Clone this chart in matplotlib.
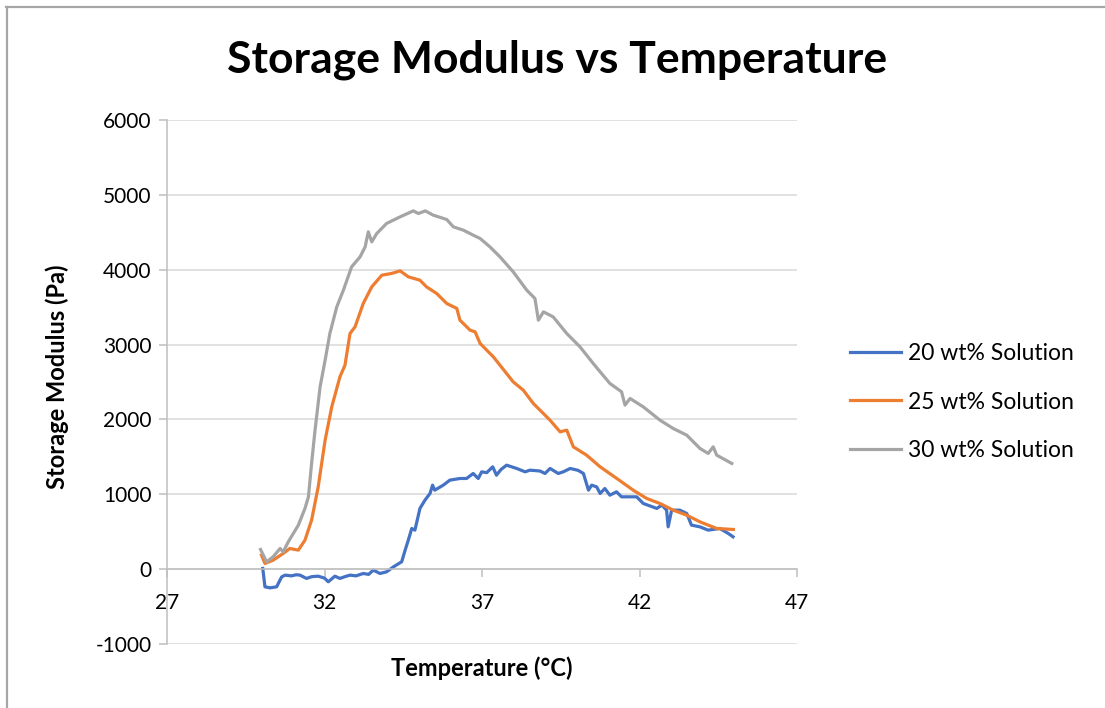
import matplotlib
matplotlib.use("Agg")
import matplotlib.pyplot as plt
from matplotlib.lines import Line2D

plt.rcParams['font.family'] = ['Lato', 'DejaVu Sans']
plt.rcParams['axes.unicode_minus'] = False

# 20 wt% solution
t20 = [30.04, 30.11, 30.27, 30.48, 30.64, 30.75, 30.95, 31.1, 31.22, 31.43, 31.6,
       31.8, 32.0, 32.12, 32.33, 32.49, 32.65, 32.81, 33.0, 33.23, 33.4, 33.55,
       33.76, 33.97, 34.19, 34.45, 34.56, 34.66, 34.77, 34.87, 35.03, 35.19,
       35.35, 35.43, 35.5, 35.77, 35.98, 36.3, 36.51, 36.72, 36.88, 36.99,
       37.15, 37.34, 37.46, 37.6, 37.78, 38.1, 38.37, 38.52, 38.84, 39.0,
       39.16, 39.42, 39.58, 39.8, 40.05, 40.22, 40.38, 40.48, 40.64, 40.75,
       40.9, 41.06, 41.27, 41.43, 41.91, 42.12, 42.55, 42.71, 42.86, 42.91,
       43.02, 43.28, 43.5, 43.65, 43.92, 44.18, 44.55, 44.82, 44.97]
g20 = [9, -236, -250, -236, -103, -80, -90, -75, -80, -124, -100,
       -94, -120, -169, -94, -124, -100, -80, -90, -58, -70, -13,
       -58, -36, 31, 98, 254, 387, 543, 521, 811, 922,
       1011, 1122, 1055, 1122, 1189, 1211, 1211, 1278, 1211, 1300,
       1289, 1367, 1255, 1330, 1389, 1345, 1300, 1322, 1311, 1278,
       1345, 1278, 1300, 1345, 1320, 1278, 1055, 1122, 1099, 1011,
       1077, 988, 1033, 966, 966, 877, 811, 855, 788, 565,
       788, 788, 744, 588, 565, 521, 543, 476, 432]

# 25 wt% solution
t25 = [30.0, 30.11, 30.37, 30.69, 30.9, 31.17, 31.38, 31.59, 31.8, 32.02,
       32.23, 32.49, 32.65, 32.81, 32.97, 33.23, 33.5, 33.82, 34.13, 34.4,
       34.66, 35.03, 35.24, 35.56, 35.88, 36.2, 36.3, 36.62, 36.78, 36.94,
       37.36, 37.57, 37.99, 38.31, 38.63, 39.16, 39.48, 39.69, 39.9, 40.32,
       40.75, 41.28, 41.8, 42.23, 42.65, 43.07, 43.5, 43.92, 44.45, 44.98]
g25 = [187, 76, 120, 210, 276, 254, 387, 654, 1099, 1723,
       2168, 2569, 2725, 3148, 3237, 3549, 3771, 3927, 3950, 3985,
       3905, 3860, 3771, 3683, 3549, 3483, 3326, 3193, 3170, 3015,
       2836, 2725, 2502, 2391, 2213, 1990, 1834, 1857, 1634, 1523,
       1367, 1211, 1055, 944, 877, 788, 721, 632, 543, 530]

# 30 wt% solution
t30 = [29.97, 30.16, 30.37, 30.59, 30.69, 30.85, 31.17, 31.38, 31.49, 31.59,
       31.7, 31.86, 32.02, 32.17, 32.39, 32.6, 32.86, 33.13, 33.29, 33.39,
       33.5, 33.66, 33.97, 34.4, 34.82, 34.98, 35.2, 35.45, 35.88, 36.09,
       36.41, 36.72, 36.94, 37.25, 37.57, 37.99, 38.42, 38.68, 38.79, 38.95,
       39.26, 39.69, 40.11, 40.53, 40.75, 41.06, 41.43, 41.54, 41.7, 42.12,
       42.65, 43.07, 43.5, 43.92, 44.18, 44.34, 44.45, 44.93]
g30 = [263, 98, 165, 276, 231, 365, 588, 811, 966, 1412,
       1857, 2435, 2792, 3148, 3504, 3727, 4038, 4172, 4305, 4506,
       4372, 4484, 4618, 4706, 4786, 4751, 4786, 4729, 4671, 4573,
       4528, 4462, 4417, 4306, 4172, 3972, 3727, 3616, 3326, 3437,
       3370, 3148, 2970, 2748, 2636, 2481, 2369, 2191, 2280, 2168,
       1990, 1879, 1790, 1612, 1546, 1634, 1523, 1412]

labels = ['20 wt% Solution', '25 wt% Solution', '30 wt% Solution']
colors = ['#4472C4', '#ED7D31', '#A5A5A5']

fig = plt.figure(figsize=(11.05, 7.08), dpi=100)
ax = fig.add_axes([167 / 1105, 1 - 644 / 708, 630 / 1105, 524 / 708])

for t, g, c, lab in zip([t20, t25, t30], [g20, g25, g30], colors, labels):
    ax.plot(t, g, color=c, lw=2.3, label=lab, solid_joinstyle='round')

ax.set_xlim(27, 47)
ax.set_ylim(-1000, 6000)
ax.set_xticks(range(27, 48, 5))
ax.set_yticks(range(-1000, 6001, 1000))
ax.grid(axis='y', color='#D9D9D9', lw=1.1)
ax.set_axisbelow(True)

for s in ['top', 'right']:
    ax.spines[s].set_visible(False)
ax.spines['bottom'].set_position(('data', 0))
ax.spines['bottom'].set_color('#BFBFBF')
ax.spines['left'].set_color('#BFBFBF')
ax.spines['bottom'].set_linewidth(1.1)
ax.spines['left'].set_linewidth(1.1)
ax.tick_params(axis='both', color='#BFBFBF', length=6, width=1.1,
               labelsize=15, labelcolor='#000000')
ax.tick_params(axis='x', pad=11)
ax.tick_params(axis='y', pad=5)

ax.set_xlabel('Temperature (°C)', fontsize=17, fontweight='bold')
ax.xaxis.set_label_coords(0.5, -12 / 524)
ax.set_ylabel('Storage Modulus (Pa)', fontsize=17, fontweight='bold')
ax.yaxis.set_label_coords(-98 / 630, 0.51)

fig.text(557 / 1105, 1 - 60 / 708, 'Storage Modulus vs Temperature',
         ha='center', va='center', fontsize=32, fontweight='bold')

handles = [Line2D([], [], color=c, lw=2.3) for c in colors]
fig.legend(handles, labels, loc='center left',
           bbox_to_anchor=(829 / 1105, 1 - 402 / 708), frameon=False,
           fontsize=16.5, handlelength=2.25, handletextpad=0.3,
           labelspacing=1.2)

# chart area border
fig.add_artist(Line2D([6 / 1105, 1], [1 - 7 / 708, 1 - 7 / 708],
                      transform=fig.transFigure, color='#A6A6A6', lw=1.6))
fig.add_artist(Line2D([7 / 1105, 7 / 1105], [0, 1 - 7 / 708],
                      transform=fig.transFigure, color='#A6A6A6', lw=1.6))

fig.savefig('out.png', dpi=100)
